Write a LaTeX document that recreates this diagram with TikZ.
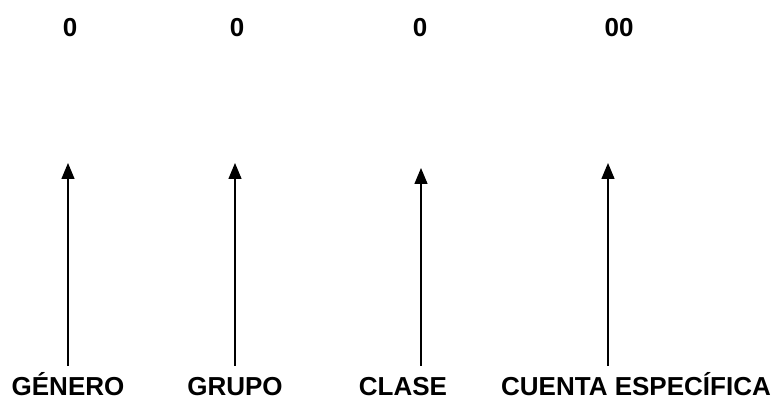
\documentclass[tikz,border=0pt]{standalone}
\usepackage{fontspec}
\setmainfont{Liberation Sans}
\usetikzlibrary{arrows.meta}
\tikzset{
  lbl/.style={font=\fontsize{26}{26}\selectfont\bfseries, anchor=base, inner sep=0pt},
  ptr/.style={line width=1.4pt, -{Triangle[length=16pt,width=13pt]}}
}
\begin{document}
\begin{tikzpicture}[x=1pt,y=1pt]
\useasboundingbox (0,0) rectangle (774,406);
% digits
\node[lbl] (d1) at (70,369) {0};
\node[lbl] (d2) at (237,369) {0};
\node[lbl] (d3) at (420,369) {0};
\node[lbl] (d4) at (619,369) {00};
% labels
\node[lbl] (l1) at (68,10) {GÉNERO};
\node[lbl] (l2) at (235,10) {GRUPO};
\node[lbl] (l3) at (403,10) {CLASE};
\node[lbl] (l4) at (636,10) {CUENTA ESPECÍFICA};
% arrow ends
\coordinate (b1) at (68,40);  \coordinate (t1) at (68,243);
\coordinate (b2) at (235,40); \coordinate (t2) at (235,243);
\coordinate (b3) at (421,40); \coordinate (t3) at (421,238);
\coordinate (b4) at (608,40); \coordinate (t4) at (608,243);
\draw[ptr] (b1) -- (t1);
\draw[ptr] (b2) -- (t2);
\draw[ptr] (b3) -- (t3);
\draw[ptr] (b4) -- (t4);
\end{tikzpicture}
\end{document}
